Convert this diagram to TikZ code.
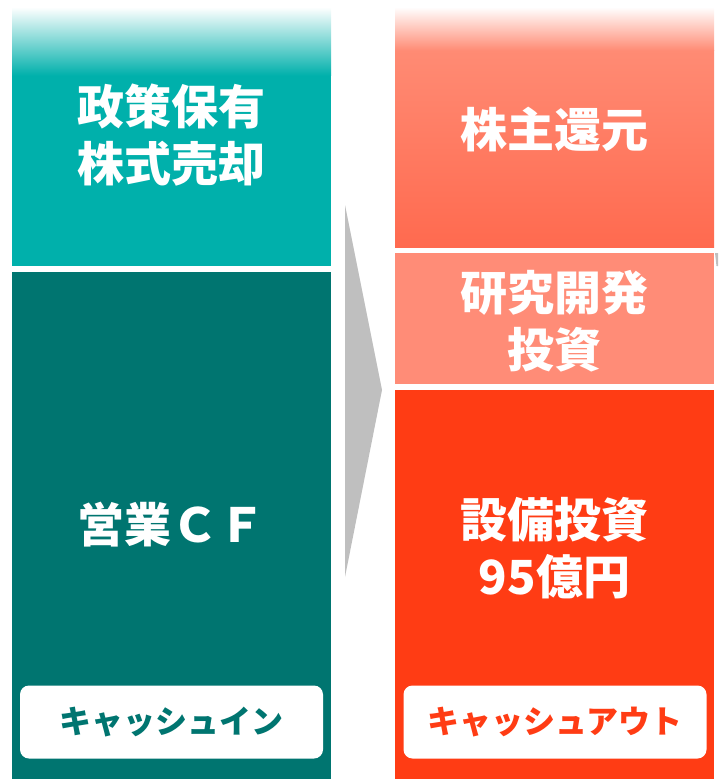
\documentclass[tikz,border=0pt]{standalone}
\usepackage{fontspec}
\newfontfamily\jp{Noto Sans CJK JP}
\definecolor{tealL}{HTML}{00B0AB}
\definecolor{tealD}{HTML}{007570}
\definecolor{orT}{HTML}{FF8B74}
\definecolor{orTb}{HTML}{FF6A4F}
\definecolor{orM}{HTML}{FF8C77}
\definecolor{orB}{HTML}{FF3C14}
\definecolor{arrowgray}{HTML}{BFBFBF}
\tikzset{
  bigtxt/.style={text=white, align=center, font={\jp\bfseries\fontsize{47}{57}\selectfont}},
  lbl/.style={fill=white, rounded corners=9pt, minimum width=303pt, minimum height=73pt, font={\jp\bfseries\fontsize{32}{36}\selectfont}, inner sep=0pt}
}
\begin{document}
\begin{tikzpicture}[x=1pt,y=-1pt]
\useasboundingbox (0,0) rectangle (718,779);
% left column
\fill[tealL] (12,75) rectangle (331,266);
\shade[top color=white, bottom color=tealL] (12,7) rectangle (331,75.5);
\fill[tealD] (12,272) rectangle (331,779);
% right column
\shade[top color=orT, bottom color=orTb] (395,50) rectangle (714,247);
\shade[top color=white, bottom color=orT] (395,7) rectangle (714,50.5);
\fill[orM] (395,253) rectangle (714,384);
\fill[orB] (395,390) rectangle (714,779);
% gray arrow
\coordinate (a1) at (345,205);
\coordinate (a2) at (382,390);
\coordinate (a3) at (345,577);
\fill[arrowgray] (a1) -- (a2) -- (a3) -- cycle;
\fill[arrowgray] (715,253) -- (718,253) -- (718,266) -- (716.5,266) -- cycle;
% texts
\node[bigtxt] (t1) at (171.5,135) {政策保有\\株式売却};
\node[bigtxt] (t2) at (171.5,525) {営業ＣＦ};
\node[bigtxt] (t3) at (554.5,130) {株主還元};
\node[bigtxt] (t4) at (554.5,321) {研究開発\\投資};
\node[bigtxt] (t5) at (554.5,548) {設備投資\\95億円};
% labels
\node[lbl, text=tealD] (l1) at (171.5,722) {キャッシュイン};
\node[lbl, text=orB] (l2) at (555,722) {キャッシュアウト};
\end{tikzpicture}
\end{document}
